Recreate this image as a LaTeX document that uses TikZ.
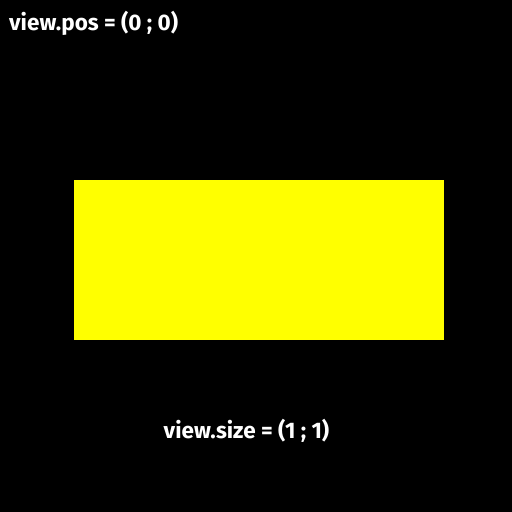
\documentclass[tikz,border=0pt]{standalone}
\usepackage{fontspec}
\setmainfont{Fira Sans}
\definecolor{pureyellow}{RGB}{255,255,0}
\begin{document}
\begin{tikzpicture}[x=1pt,y=1pt,
  lbl/.style={text=white,font=\fontsize{22.5}{26}\selectfont\bfseries,inner sep=0pt}]
\fill[black] (0,0) rectangle (512,512);
\useasboundingbox (0,0) rectangle (512,512);
\node[fill=pureyellow,minimum width=370pt,minimum height=160pt,inner sep=0pt,anchor=north west] (box) at (74,332) {};
\node[lbl,anchor=west] (pos) at (9,489) {view.pos = (0 ; 0)};
\node[lbl] (size) at (246.5,81) {view.size = (1 ; 1)};
\end{tikzpicture}
\end{document}
